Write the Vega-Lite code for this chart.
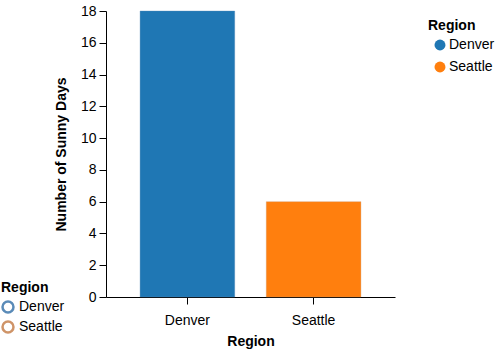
{
  "$schema": "https://vega.github.io/schema/vega-lite/v6.json",
  "autosize": {"type": "none"},
  "width": 289,
  "height": 286,
  "padding": {"left": 106, "top": 11, "right": 100, "bottom": 55},
  "data": {"values": [
    {"Region": "Denver", "SunnyDays": 18},
    {"Region": "Seattle", "SunnyDays": 6}
  ]},
  "mark": {"type": "bar", "strokeWidth": 1, "strokeOpacity": 0.35},
  "encoding": {
    "x": {
      "field": "Region", "type": "nominal",
      "scale": {"paddingInner": 0.25, "paddingOuter": 0.27},
      "axis": {"labelAngle": 0, "title": "Region", "labelPadding": 9, "titlePadding": 7}
    },
    "y": {
      "field": "SunnyDays", "type": "quantitative",
      "title": "Number of Sunny Days",
      "scale": {"domain": [0, 18]},
      "axis": {"values": [0, 2, 4, 6, 8, 10, 12, 14, 16, 18], "labelPadding": 3, "titlePadding": 12}
    },
    "fill": {
      "field": "Region", "type": "nominal",
      "scale": {"range": ["#1f77b4", "#ff7f0e"]},
      "legend": {"title": "Region", "offset": 25, "padding": 8, "symbolOffset": 5, "labelOffset": 2, "symbolType": "circle", "rowPadding": 8}
    },
    "stroke": {
      "field": "Region", "type": "nominal",
      "scale": {"domain": ["Denver", "Seattle"], "range": ["#5a8bb8", "#cf9468"]},
      "legend": {
        "title": "Region", "orient": "none", "legendX": -105, "legendY": 270,
        "symbolType": "circle", "symbolFillColor": "transparent", "symbolStrokeWidth": 2.5,
        "symbolOpacity": 1, "rowPadding": -2, "labelOffset": 4,
        "encode": {"symbols": {"update": {"fill": {"value": "transparent"}, "strokeOpacity": {"value": 1}}}}
      }
    }
  },
  "config": {
    "view": {"stroke": null},
    "axis": {
      "domainColor": "#000", "tickColor": "#000", "labelColor": "#000", "titleColor": "#000",
      "labelFont": "Liberation Sans", "titleFont": "Liberation Sans",
      "labelFontSize": 14, "titleFontSize": 14, "titleFontWeight": "bold",
      "tickSize": 7, "grid": false
    },
    "legend": {
      "titleFont": "Liberation Sans", "labelFont": "Liberation Sans",
      "titleFontSize": 14, "labelFontSize": 14, "titleColor": "#000", "labelColor": "#000",
      "symbolSize": 120
    }
  }
}
